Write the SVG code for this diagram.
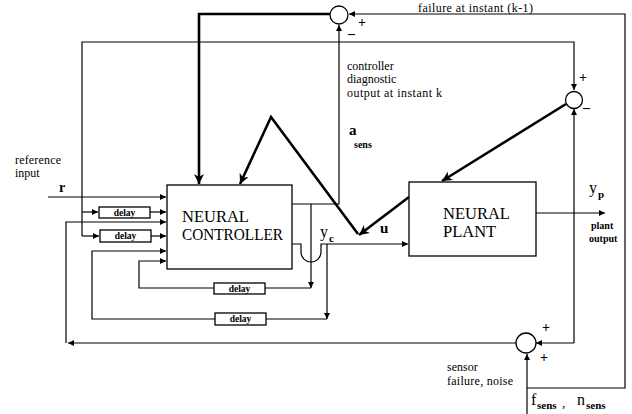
<svg xmlns="http://www.w3.org/2000/svg" width="632" height="414" viewBox="0 0 632 414">
<style>
text{font-family:'Liberation Serif','DejaVu Serif','Times New Roman',serif;fill:#000}
.s{font-size:12px}
.d{font-size:9.5px;font-weight:bold}
.big{font-size:16.5px}
.thin{fill:none;stroke:#000;stroke-width:1.2}
.thick{fill:none;stroke:#000;stroke-width:2.6}
.box{fill:#fff;stroke:#000;stroke-width:1.3}
.sum{fill:#fff;stroke:#000;stroke-width:1.3}
.sg{font-size:14px;font-weight:bold}
.b{font-weight:bold}
</style>
<defs>
<marker id="a" viewBox="0 0 10 10" refX="10" refY="5" markerWidth="8" markerHeight="6" markerUnits="userSpaceOnUse" orient="auto"><path d="M0,0L10,5L0,10z"/></marker>
<marker id="A" viewBox="0 0 10 10" refX="10" refY="5" markerWidth="14" markerHeight="10" markerUnits="userSpaceOnUse" orient="auto"><path d="M0,0L10,5L0,10L3,5z"/></marker>
</defs>
<rect width="632" height="414" fill="#fff"/>
<g id="connectors">
<path class="thin" d="M48,197H166" marker-end="url(#a)"/>
<path class="thin" d="M82,236V42H574V90" marker-end="url(#a)"/>
<path class="thin" d="M82,212H98" marker-end="url(#a)"/>
<path class="thin" d="M150,212H166" marker-end="url(#a)"/>
<path class="thin" d="M82,236H99" marker-end="url(#a)"/>
<path class="thin" d="M151,236H166" marker-end="url(#a)"/>
<path class="thin" d="M516,343H68" marker-end="url(#a)"/>
<path class="thin" d="M66,343V222H166" marker-end="url(#a)"/>
<path class="thin" d="M215,319H92V251H166" marker-end="url(#a)"/>
<path class="thin" d="M214,288H139V261H166" marker-end="url(#a)"/>
<path class="thin" d="M292,204H339V25" marker-end="url(#a)"/>
<path class="thin" d="M311,204V288" marker-end="url(#a)"/>
<path class="thin" d="M311,288H265"/>
<path class="thin" d="M292,244H301V252A10,10 0 0 0 321,252V244H408" marker-end="url(#a)"/>
<path class="thin" d="M327,244V319" marker-end="url(#a)"/>
<path class="thin" d="M327,319H266"/>
<path class="thin" d="M536,213H605" marker-end="url(#a)"/>
<path class="thin" d="M574,343V109" marker-end="url(#a)"/>
<path class="thin" d="M574,343H536" marker-end="url(#a)"/>
<path class="thin" d="M527,414V354" marker-end="url(#a)"/>
<path class="thin" d="M527,388H625V14H349" marker-end="url(#a)"/>
<path class="thick" d="M330,14H199V184" marker-end="url(#A)"/>
<path class="thick" d="M358,234L271,117L240,184" marker-end="url(#A)"/>
<path class="thick" d="M409,197L359,235" marker-end="url(#A)"/>
<path class="thick" d="M566,104L442,181" marker-end="url(#A)"/>
</g>
<g id="controller">
<rect class="box" x="167" y="185" width="125" height="84"/>
<text class="big" x="182" y="222">NEURAL</text>
<text class="big" x="182" y="240" textLength="101" lengthAdjust="spacingAndGlyphs">CONTROLLER</text>
</g>
<g id="plant">
<rect class="box" x="409" y="182" width="127" height="74"/>
<text class="big" x="443" y="219">NEURAL</text>
<text class="big" x="443" y="237">PLANT</text>
</g>
<g id="delay1"><rect class="box" x="99" y="207" width="51" height="11"/><text class="d" x="124.5" y="216" text-anchor="middle">delay</text></g>
<g id="delay2"><rect class="box" x="100" y="230" width="51" height="12"/><text class="d" x="125.5" y="239" text-anchor="middle">delay</text></g>
<g id="delay3"><rect class="box" x="214" y="283" width="51" height="11"/><text class="d" x="239.5" y="292" text-anchor="middle">delay</text></g>
<g id="delay4"><rect class="box" x="215" y="313" width="51" height="12"/><text class="d" x="240.5" y="322" text-anchor="middle">delay</text></g>
<g id="sum-top"><circle class="sum" cx="339" cy="15" r="9"/><text class="sg" x="358" y="27">+</text><text class="sg" x="348" y="38">–</text></g>
<g id="sum-right"><circle class="sum" cx="574" cy="100" r="8.5"/><text class="sg" x="579" y="82">+</text><text class="sg" x="583" y="112">–</text></g>
<g id="sum-bottom"><circle class="sum" cx="526" cy="343" r="10"/><text class="sg" x="542" y="332">+</text><text class="sg" x="540" y="362">+</text></g>
<g id="labels">
<text class="s" x="15" y="164" textLength="46">reference</text>
<text class="s" x="15" y="177">input</text>
<text class="b" x="59" y="192" font-size="14">r</text>
<text class="s" x="418" y="12" textLength="115">failure at  instant  (k-1)</text>
<text class="s" x="347" y="70">controller</text>
<text class="s" x="347" y="83">diagnostic</text>
<text class="s" x="347" y="97" textLength="95">output at  instant  k</text>
<text class="b" x="349" y="135" font-size="15">a</text>
<text class="b" x="354" y="148" font-size="10">sens</text>
<text class="b" x="380" y="233" font-size="15">u</text>
<text x="320" y="237" font-size="16">y</text>
<text class="b" x="329" y="242" font-size="11">c</text>
<text x="589" y="193" font-size="16">y</text>
<text class="b" x="598" y="198" font-size="11">p</text>
<text class="b" x="591" y="229" font-size="10">plant</text>
<text class="b" x="589" y="242" font-size="10">output</text>
<text class="s" x="447" y="371">sensor</text>
<text class="s" x="447" y="385" textLength="66">failure, noise</text>
<text x="531" y="405" font-size="16">f</text>
<text class="b" x="537" y="409" font-size="11">sens</text>
<text x="562" y="407" font-size="13">,</text>
<text x="577" y="405" font-size="16">n</text>
<text class="b" x="586" y="409" font-size="11">sens</text>
</g>
</svg>
